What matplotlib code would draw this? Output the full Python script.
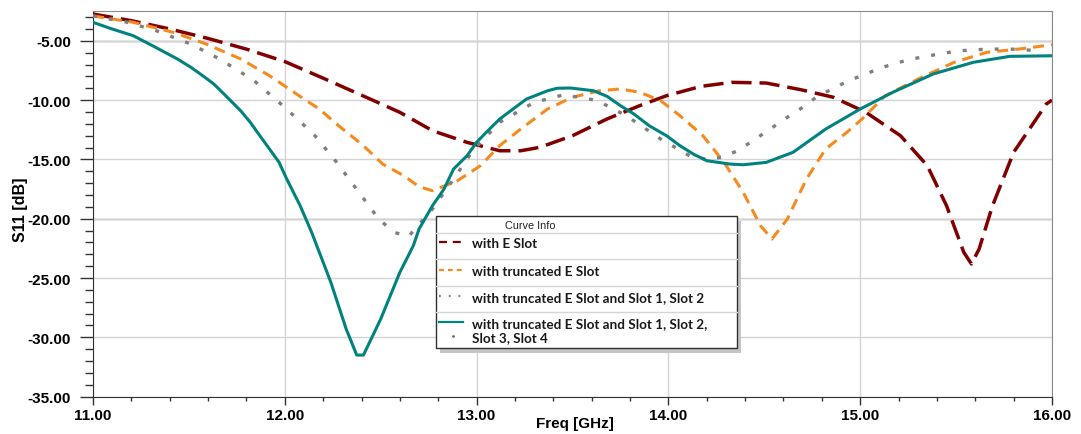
import matplotlib.pyplot as plt
from matplotlib.lines import Line2D
from matplotlib.patches import Rectangle
from matplotlib.ticker import MultipleLocator, FormatStrFormatter

# with E Slot
f_e = [11.0, 11.2, 11.4, 11.6, 11.8, 12.0, 12.2, 12.43, 12.6, 12.77, 12.95, 13.12, 13.23,
       13.33, 13.50, 13.68, 13.85, 13.99, 14.17, 14.33, 14.51, 14.69, 14.86, 15.03, 15.21,
       15.35, 15.45, 15.54, 15.58, 15.62, 15.69, 15.80, 15.90, 15.97, 16.0]
s_e = [-2.74, -3.3, -4.0, -4.8, -5.7, -6.75, -8.15, -9.8, -11.03, -12.58, -13.56, -14.27, -14.27,
       -13.98, -13.0, -11.59, -10.47, -9.63, -8.84, -8.5, -8.56, -9.12, -9.76, -11.03, -13.0,
       -15.53, -18.9, -22.83, -23.82, -22.55, -18.9, -14.4, -12.02, -10.33, -10.0]

# with truncated E Slot
f_t = [11.0, 11.21, 11.42, 11.59, 11.77, 11.92, 12.01, 12.10, 12.18, 12.27, 12.41, 12.51, 12.62,
       12.70, 12.77, 12.90, 13.02, 13.12, 13.23, 13.37, 13.50, 13.64, 13.75, 13.85, 13.96, 14.06,
       14.18, 14.29, 14.39, 14.48, 14.54, 14.62, 14.72, 14.82, 14.93, 15.01, 15.13, 15.31, 15.49,
       15.66, 15.83, 16.0]
s_t = [-2.9, -3.44, -4.29, -5.27, -6.53, -7.94, -8.92, -9.91, -10.75, -12.02, -13.84, -15.39, -16.37,
       -17.3, -17.64, -16.8, -15.53, -13.84, -12.44, -10.75, -9.76, -9.21, -9.06, -9.34, -10.05, -11.31,
       -13.0, -15.24, -17.78, -20.59, -21.71, -20.03, -16.65, -14.12, -12.72, -11.59, -9.63, -8.16, -6.81,
       -5.97, -5.69, -5.33]

# with truncated E Slot and Slot 1, Slot 2
f_s2 = [11.0, 11.18, 11.33, 11.51, 11.66, 11.84, 11.99, 12.15, 12.27, 12.38, 12.49, 12.57, 12.645,
        12.77, 12.88, 12.98, 13.12, 13.30, 13.45, 13.54, 13.63, 13.78, 13.96, 14.11, 14.20, 14.28,
        14.36, 14.44, 14.53, 14.62, 14.70, 14.77, 14.86, 14.94, 15.03, 15.10, 15.19, 15.27, 15.36,
        15.44, 15.52, 15.60, 15.69, 15.77, 15.85, 15.94]
s_s2 = [-2.9, -3.44, -4.15, -5.27, -6.53, -8.36, -10.47, -12.86, -15.24, -17.64, -20.03, -21.15, -21.5,
        -19.18, -16.65, -14.27, -11.87, -10.19, -9.57, -9.76, -10.05, -11.31, -13.28, -14.69, -15.0, -14.82,
        -14.27, -13.43, -12.44, -11.45, -10.61, -9.76, -9.0, -8.36, -7.8, -7.32, -6.87, -6.53, -6.26,
        -6.03, -5.84, -5.75, -5.7, -5.69, -5.75, -5.84]

# with truncated E Slot and Slot 1, Slot 2, Slot 3, Slot 4
f_s4 = [11.0, 11.09, 11.21, 11.31, 11.44, 11.51, 11.56, 11.63, 11.70, 11.77, 11.82, 11.87, 11.92,
        11.97, 12.01, 12.08, 12.14, 12.24, 12.32, 12.375, 12.41, 12.50, 12.60, 12.67, 12.70, 12.77,
        12.83, 12.88, 12.95, 13.0, 13.05, 13.12, 13.19, 13.26, 13.37, 13.42, 13.49, 13.61, 13.68,
        13.75, 13.82, 13.90, 13.99, 14.06, 14.13, 14.20, 14.32, 14.39, 14.51, 14.65, 14.82, 15.0,
        15.17, 15.38, 15.59, 15.78, 16.0]
s_s4 = [-3.44, -3.95, -4.57, -5.41, -6.53, -7.23, -7.8, -8.64, -9.76, -10.9, -11.87, -13.0, -14.12,
        -15.24, -16.65, -18.9, -21.15, -25.36, -29.3, -31.5, -31.5, -28.46, -24.52, -22.28, -20.87, -18.9,
        -17.5, -15.81, -14.69, -13.56, -12.72, -11.6, -10.75, -9.91, -9.21, -9.0, -8.98, -9.21, -9.68,
        -10.47, -11.17, -12.16, -13.0, -13.84, -14.55, -15.11, -15.39, -15.45, -15.25, -14.4, -12.44, -10.75,
        -9.34, -7.8, -6.81, -6.31, -6.26]

labels = ['with E Slot', 'with truncated E Slot', 'with truncated E Slot and Slot 1, Slot 2',
          'with truncated E Slot and Slot 1, Slot 2,\nSlot 3, Slot 4']
colors = ['#800000', '#F58A1F', '#7F7F7F', '#00827F']
styles = [(0, (5.8, 2.3)), (0, (3.6, 2.3)), (0, (1.2, 3.6)), '-']
widths = [2.5, 2.2, 2.4, 2.2]

W, H = 1081, 435
fig = plt.figure(figsize=(W / 100, H / 100), dpi=100)
ax = fig.add_axes([93 / W, 1 - 397.6 / H, (1052 - 93) / W, (397.6 - 11.7) / H])

data = [(f_e, s_e), (f_t, s_t), (f_s2, s_s2), (f_s4, s_s4)]
for i in [0, 2, 1, 3]:
    f, s = data[i]
    ax.plot(f, s, color=colors[i], linestyle=styles[i], lw=widths[i],
            dash_capstyle='butt', solid_capstyle='round', solid_joinstyle='round', zorder=3 + i)

ax.set_xlim(11, 16)
ax.set_ylim(-35, -2.46)
ax.xaxis.set_major_locator(MultipleLocator(1))
ax.xaxis.set_minor_locator(MultipleLocator(0.2))
ax.yaxis.set_major_locator(MultipleLocator(5))
ax.yaxis.set_minor_locator(MultipleLocator(1))
ax.xaxis.set_major_formatter(FormatStrFormatter('%.2f'))
ax.yaxis.set_major_formatter(FormatStrFormatter('%.2f'))
ax.grid(True, which='major', color='#d4d4d4', lw=1)
for yv in [-5, -20]:
    ax.axhline(yv, color='#e0e0e0', lw=1.8, zorder=1)

ax.tick_params(axis='y', which='major', length=9.4, width=1, pad=6.5, color='#333333')
ax.tick_params(axis='y', which='minor', length=5.8, width=1, color='#333333')
ax.tick_params(axis='x', which='major', length=6, width=1, pad=2, color='#333333')
ax.tick_params(axis='x', which='minor', length=3, width=1, color='#333333')
for lab in ax.get_xticklabels() + ax.get_yticklabels():
    lab.set_fontfamily('Liberation Sans')
    lab.set_fontweight('bold')
    lab.set_fontsize(11)

for sp in ['left', 'bottom']:
    ax.spines[sp].set_color('#333333')
for sp in ['top', 'right']:
    ax.spines[sp].set_color('#8a8a8a')

ax.set_xlabel('Freq [GHz]', fontfamily='Liberation Sans', fontweight='bold', fontsize=11)
ax.set_ylabel('S11 [dB]', fontfamily='Liberation Sans', fontweight='bold', fontsize=11.5)
ax.xaxis.set_label_coords(0.5026, -0.05)
ax.yaxis.set_label_coords(-0.068, 0.486)


# legend box ("Curve Info"), drawn in figure pixels
def fx(px):
    return px / W


def fy(py):
    return 1 - py / H


fig.add_artist(Rectangle((fx(440), fy(354)), fx(737) - fx(436), fy(217) - fy(349.3),
                         transform=fig.transFigure, facecolor='#c4c4c4', edgecolor='none', zorder=9))
fig.add_artist(Rectangle((fx(436), fy(349.3)), fx(737) - fx(436), fy(217) - fy(349.3),
                         transform=fig.transFigure, facecolor='white', edgecolor='#303030', lw=1, zorder=10))
for sy in [234, 260, 286.7, 312.7]:
    fig.add_artist(Line2D([fx(436), fx(737)], [fy(sy), fy(sy)], transform=fig.transFigure,
                          color='#d6d6d6', lw=1, zorder=11))
fig.text(fx(530), fy(225.7), 'Curve Info', ha='center', va='center', fontsize=7.8,
         fontfamily='Liberation Sans', color='#222222', zorder=12)

leg_styles = [(0, (3.6, 2.6)), (0, (2.2, 1.8)), (0, (0.8, 3.6)), '-']
row_y = [243.3, 271, 297.3, 323.3]
for i in range(4):
    fig.add_artist(Line2D([fx(439), fx(463)], [fy(row_y[i]), fy(row_y[i])], transform=fig.transFigure,
                          color=colors[i], linestyle=leg_styles[i], lw=1.6,
                          dash_capstyle='butt', zorder=12))
    fig.text(fx(472.5), fy(row_y[i] - 5.5), labels[i], ha='left', va='top', fontsize=9.7,
             fontfamily='Lato', fontweight='bold', color='#1a1a1a', linespacing=1.2, zorder=12)
fig.add_artist(Line2D([fx(452.5)], [fy(336.7)], transform=fig.transFigure, marker='.',
                      markersize=2, color='#707070', lw=0, zorder=12))

fig.savefig('out.png', dpi=100)
